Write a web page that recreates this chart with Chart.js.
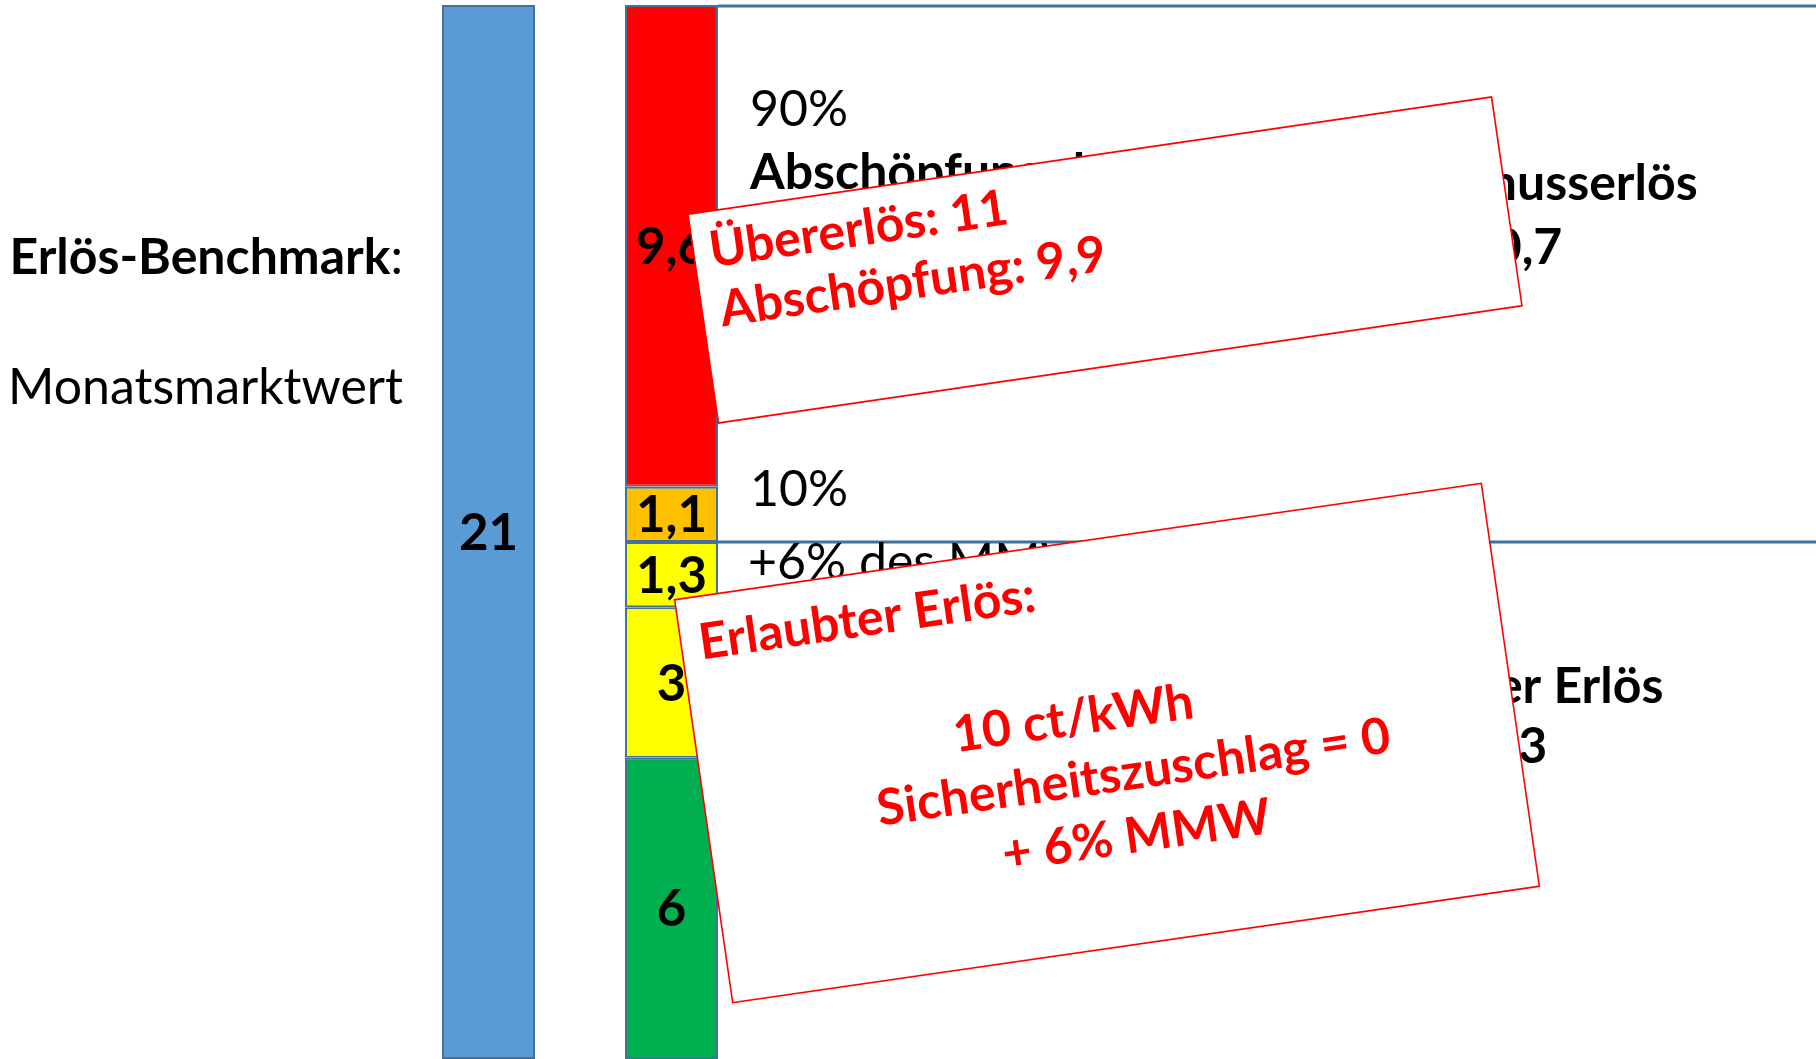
<!DOCTYPE html>
<html lang="de">
<head>
<meta charset="utf-8">
<script src="https://cdn.jsdelivr.net/npm/chart.js@4"></script>
<style>
  html, body { margin: 0; padding: 0; background: #fff; overflow: hidden; }
  canvas { display: block; }
</style>
</head>
<body>
<canvas id="grafik" width="1816" height="1059"></canvas>
<script>
// --- Daten ---
const kategorien = ['Monatsmarktwert', 'Erlös'];
const benchmarkWerte = [21, null];
// Segmente von unten nach oben gestapelt
const segmentNamen = ['Basis', 'Sicherheitszuschlag', '6% des MMW', '10% Übererlös', '90% Abschöpfung'];
const segmentWerte = [6, 3, 1.3, 1.1, 9.6];
const segmentFarben = ['#00B050', '#FFFF00', '#FFFF00', '#FFC000', '#FF0000'];

const FONT = 'Lato, "Open Sans", sans-serif';
const ROT = '#FF0000';
const RAND = '#41719C';

const fmt = v => String(Math.round(v * 10) / 10).replace('.', ',');

function text(ctx, s, x, y, size, bold, align, color) {
    ctx.font = (bold ? 'bold ' : '') + size + 'px ' + FONT;
    ctx.textAlign = align || 'left';
    ctx.textBaseline = 'alphabetic';
    ctx.fillStyle = color || '#000';
    ctx.fillText(s, x, y);
}

// gedrehter Kasten mit roter Schrift
function kasten(ctx, cx, cy, w, h, winkel, zeilen) {
    ctx.save();
    ctx.translate(cx, cy);
    ctx.rotate(winkel * Math.PI / 180);
    ctx.fillStyle = '#fff';
    ctx.fillRect(-w / 2, -h / 2, w, h);
    ctx.strokeStyle = ROT;
    ctx.lineWidth = 1.6;
    ctx.strokeRect(-w / 2, -h / 2, w, h);
    zeilen.forEach(z => {
        const x = z.mitte ? z.x : -w / 2 + z.x;
        text(ctx, z.t, x, -h / 2 + z.y, 50, true, z.mitte ? 'center' : 'left', ROT);
    });
    ctx.restore();
}

const beschriftung = {
    id: 'beschriftung',
    afterDatasetsDraw(chart) {
        const ctx = chart.ctx;
        const yS = chart.scales.y;
        const stapel = chart.getDatasetMeta(1).data[1];
        const rechts = stapel.x + stapel.width / 2;

        // Klammer-Rahmen rechts vom Balken
        const yOben = yS.getPixelForValue(benchmarkWerte[0]);
        const yGrenze = yS.getPixelForValue(segmentWerte[0] + segmentWerte[1] + segmentWerte[2]);
        ctx.save();
        ctx.strokeStyle = RAND;
        ctx.lineWidth = 3;
        ctx.beginPath();
        ctx.moveTo(rechts, yOben + 1);
        ctx.lineTo(1816, yOben + 1);
        ctx.moveTo(rechts, yGrenze);
        ctx.lineTo(1816, yGrenze);
        ctx.stroke();
        ctx.restore();

        // Werte in den Balken
        chart.data.datasets.forEach((ds, i) => {
            const meta = chart.getDatasetMeta(i);
            meta.data.forEach((el, j) => {
                const v = ds.data[j];
                if (v == null) return;
                const m = (el.y + el.base) / 2;
                text(ctx, fmt(v), el.x, m + 18, 51, true, 'center');
            });
        });

        // Linke Beschriftung
        ctx.font = '50px ' + FONT;
        const wDp = ctx.measureText(':').width;
        text(ctx, ':', 403, 274, 50, false, 'right');
        text(ctx, 'Erlös-Benchmark', 403 - wDp, 274, 50, true, 'right');
        text(ctx, 'Monatsmarktwert', 403, 404, 50, false, 'right');

        // Rechte Beschriftung
        text(ctx, '90%', 750, 126, 50, false);
        text(ctx, 'Abschöpfung des', 750, 189, 50, true);
        text(ctx, 'Überschusserlös', 1515, 200, 50, true, 'center');
        text(ctx, fmt(segmentWerte[3] + segmentWerte[4]), 1513, 264, 50, true, 'center');
        text(ctx, '10%', 750, 506, 50, false);
        text(ctx, '+6% des MMW', 748, 579, 50, false);
        text(ctx, 'Erlaubter Erlös', 1500, 703, 50, true, 'center');
        text(ctx, fmt(segmentWerte[0] + segmentWerte[1] + segmentWerte[2]), 1498, 763, 50, true, 'center');

        // Hinweiskästen
        kasten(ctx, 1105, 260, 812, 211, -8.3, [
            { t: 'Übererlös: 11', x: 16, y: 56 },
            { t: 'Abschöpfung: 9,9', x: 18, y: 116 }
        ]);
        kasten(ctx, 1107, 743, 815, 407, -8.2, [
            { t: 'Erlaubter Erlös:', x: 18, y: 63 },
            { t: '10 ct/kWh', x: -30, y: 191, mitte: true },
            { t: 'Sicherheitszuschlag = 0', x: 22, y: 253, mitte: true },
            { t: '+ 6% MMW', x: 16, y: 316, mitte: true }
        ]);
    }
};

const datasets = [{
    label: 'Monatsmarktwert',
    data: benchmarkWerte,
    backgroundColor: '#5B9BD5'
}];
segmentNamen.forEach((n, i) => {
    datasets.push({
        label: n,
        data: [null, segmentWerte[i]],
        backgroundColor: segmentFarben[i]
    });
});
datasets.forEach(d => {
    d.borderColor = RAND;
    d.borderWidth = 2;
    d.borderSkipped = false;
    d.barPercentage = 0.508;
    d.categoryPercentage = 1;
});

new Chart(document.getElementById('grafik'), {
    type: 'bar',
    data: { labels: kategorien, datasets },
    options: {
        responsive: false,
        devicePixelRatio: 1,
        animation: false,
        layout: { padding: { left: 397, right: 1053, top: 5, bottom: 0 } },
        plugins: { legend: { display: false }, tooltip: { enabled: false } },
        scales: {
            x: { display: false, stacked: true, offset: true },
            y: { display: false, stacked: true, min: 0, max: 21 }
        }
    },
    plugins: [beschriftung]
});
</script>
</body>
</html>
